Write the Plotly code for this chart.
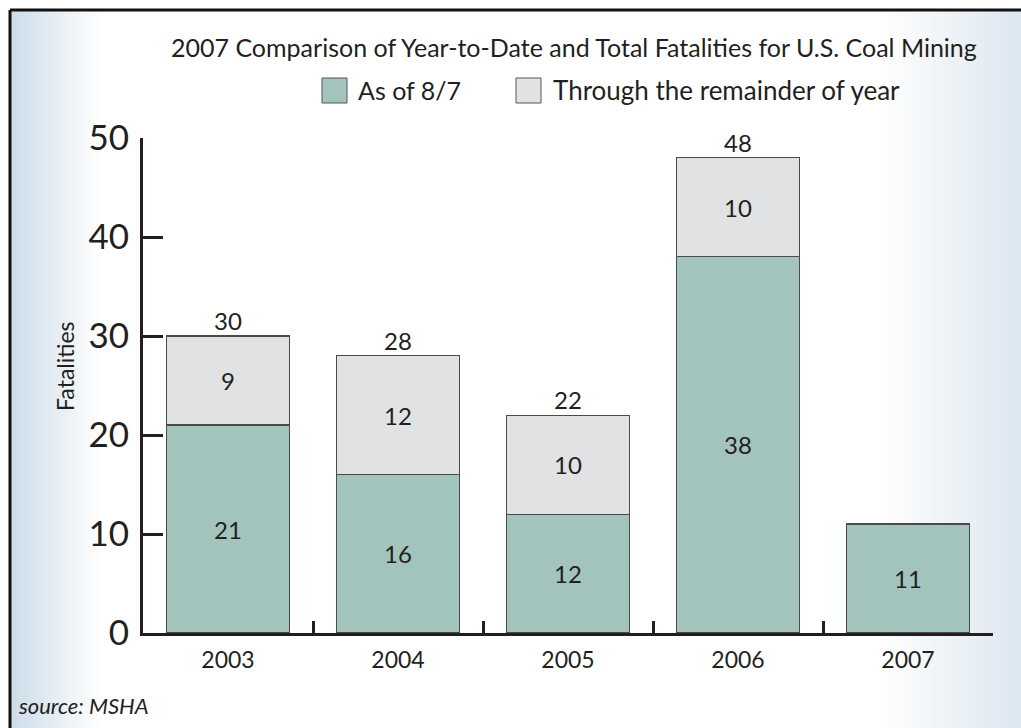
import plotly.graph_objects as go

years = ["2003", "2004", "2005", "2006", "2007"]
as_of = [21, 16, 12, 38, 11]
remainder = [9, 12, 10, 10, None]
totals = [30, 28, 22, 48, None]
y_ticks = [0, 10, 20, 30, 40, 50]

TEAL = "#a3c4bd"
GRAY = "#e1e2e4"
DARK = "#231f20"
FONT = "Lato"

W, H = 1021, 728
L, R, T, B = 143, 28, 138, 95
PW, PH = W - L - R, H - T - B


def px(x):
    return (x - L) / PW


def py(y):
    return (H - B - y) / PH


fig = go.Figure()
fig.add_trace(go.Bar(
    x=years, y=as_of, name="As of 8/7",
    marker=dict(color=TEAL, line=dict(color="#4a4a4a", width=1.3)),
    text=[str(v) for v in as_of], textposition="inside", insidetextanchor="middle",
    textfont=dict(size=24, color=DARK, family=FONT), showlegend=False,
))
fig.add_trace(go.Bar(
    x=years, y=remainder, name="Through the remainder of year",
    marker=dict(color=GRAY, line=dict(color="#4a4a4a", width=1.3)),
    text=[str(v) if v else "" for v in remainder], textposition="inside",
    insidetextanchor="middle",
    textfont=dict(size=24, color=DARK, family=FONT), showlegend=False,
))
fig.add_trace(go.Scatter(
    x=years, y=totals, mode="text",
    text=[str(v) if v else "" for v in totals], textposition="top center",
    textfont=dict(size=24, color=DARK, family=FONT), showlegend=False,
    cliponaxis=False,
))

shapes = []
# background gradients
n = 30
c0 = (205, 222, 234)
for i in range(n):
    f = i / n
    col = tuple(int(c0[k] + (255 - c0[k]) * f) for k in range(3))
    x0 = 10 + i * 3
    shapes.append(dict(type="rect", xref="paper", yref="paper",
                       x0=px(x0), x1=px(x0 + 3.5), y0=py(H), y1=py(10),
                       fillcolor="rgb(%d,%d,%d)" % col, line=dict(width=0), layer="below"))
c1 = (222, 232, 241)
m = 40
for i in range(m):
    f = i / m
    col = tuple(int(c1[k] + (255 - c1[k]) * f) for k in range(3))
    x1 = W - i * 3.5
    shapes.append(dict(type="rect", xref="paper", yref="paper",
                       x0=px(x1 - 4), x1=px(x1), y0=py(H), y1=py(10),
                       fillcolor="rgb(%d,%d,%d)" % col, line=dict(width=0), layer="below"))
# border lines
shapes.append(dict(type="line", xref="paper", yref="paper", x0=px(10), x1=px(W), y0=py(10), y1=py(10),
                   line=dict(color="#111", width=3)))
shapes.append(dict(type="line", xref="paper", yref="paper", x0=px(10), x1=px(10), y0=py(10), y1=py(H),
                   line=dict(color="#111", width=3)))
# legend swatches
shapes.append(dict(type="rect", xref="paper", yref="paper", x0=px(322), x1=px(347), y0=py(103), y1=py(78),
                   fillcolor=TEAL, line=dict(color="#555", width=1)))
shapes.append(dict(type="rect", xref="paper", yref="paper", x0=px(516), x1=px(541), y0=py(103), y1=py(78),
                   fillcolor=GRAY, line=dict(color="#555", width=1)))

annotations = [
    dict(text="2007 Comparison of Year-to-Date and Total Fatalities for U.S. Coal Mining",
         xref="paper", yref="paper", x=px(574), y=py(47), showarrow=False,
         font=dict(size=25, color=DARK, family=FONT), xanchor="center", yanchor="middle"),
    dict(text="As of 8/7", xref="paper", yref="paper", x=px(356), y=py(90), showarrow=False,
         font=dict(size=25, color=DARK, family=FONT), xanchor="left", yanchor="middle"),
    dict(text="Through the remainder of year", xref="paper", yref="paper", x=px(551), y=py(90),
         showarrow=False, font=dict(size=26, color=DARK, family=FONT), xanchor="left", yanchor="middle"),
    dict(text="Fatalities", xref="paper", yref="paper", x=px(65), y=py(366), showarrow=False,
         textangle=-90, font=dict(size=23, color=DARK, family=FONT), xanchor="center", yanchor="middle"),
    dict(text="<i>source: MSHA</i>", xref="paper", yref="paper", x=px(16), y=py(705), showarrow=False,
         font=dict(size=22, color=DARK, family=FONT), xanchor="left", yanchor="middle"),
]

fig.update_layout(
    width=W, height=H, barmode="stack", bargap=0.276,
    margin=dict(l=L, r=R, t=T, b=B, pad=0),
    paper_bgcolor="white", plot_bgcolor="rgba(0,0,0,0)",
    shapes=shapes, annotations=annotations, showlegend=False,
    font=dict(family=FONT, color=DARK),
)
fig.update_xaxes(
    type="category", showline=True, linecolor=DARK, linewidth=3, showgrid=False,
    ticks="inside", tickson="boundaries", ticklen=12, tickwidth=3, tickcolor=DARK,
    tickfont=dict(size=23, color=DARK, family=FONT), ticklabelstandoff=4,
)
fig.update_yaxes(
    range=[0, 50], tickvals=y_ticks, showline=True, linecolor=DARK, linewidth=3, showgrid=False,
    zeroline=False, ticks="inside", ticklen=20, tickwidth=3, tickcolor=DARK,
    tickfont=dict(size=35, color=DARK, family=FONT), ticklabelstandoff=4,
)

fig.write_html("out.html", config={"displayModeBar": False},
               post_script="document.body.style.margin='0px';document.body.style.overflow='hidden';")
